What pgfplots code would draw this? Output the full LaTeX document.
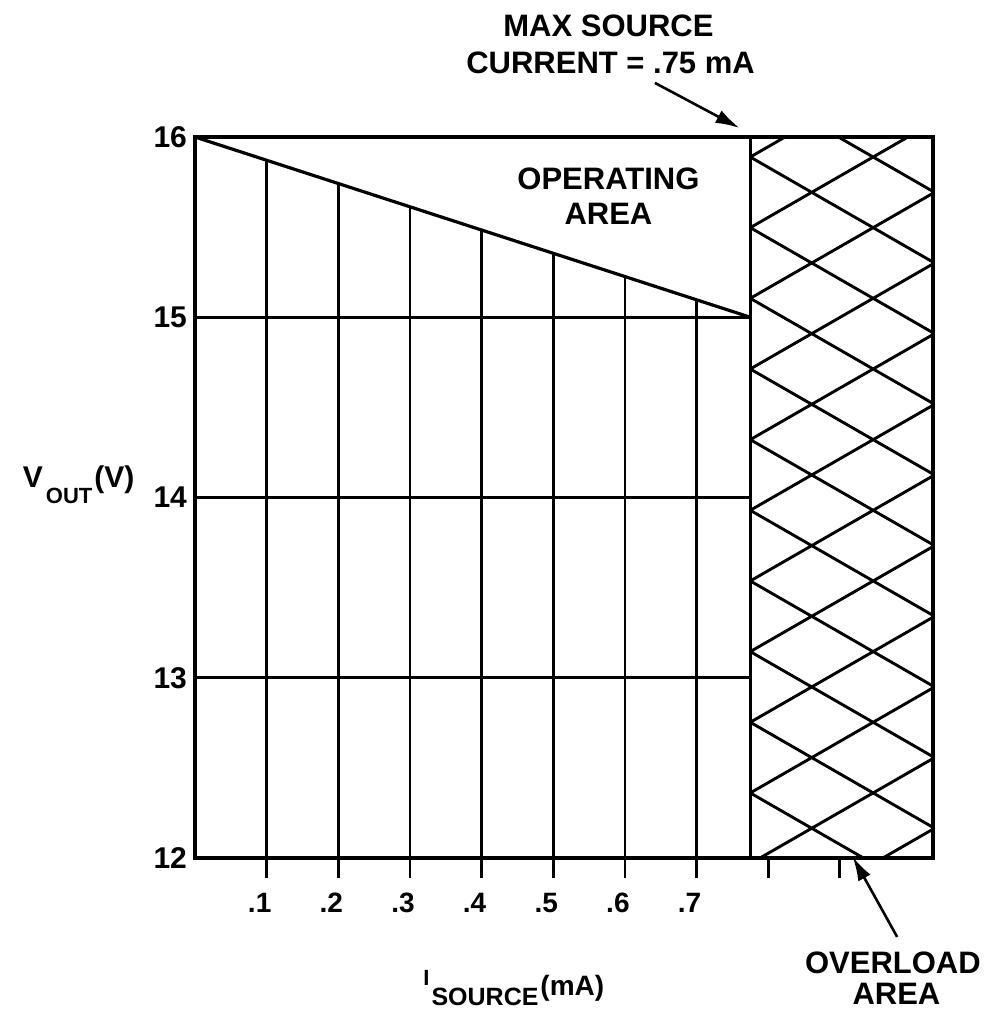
\documentclass[border=0pt]{standalone}
\usepackage{pgfplots}
\pgfplotsset{compat=1.18}
\usepackage{pgfplotstable}
\usepackage{fontspec}
\setmainfont{Liberation Sans}
\usetikzlibrary{arrows.meta}

% vertical grid lines, from 12 V up to the load line
\pgfplotstableread{
x y
0.1 12
0.1 15.871
nan nan
0.2 12
0.2 15.742
nan nan
0.3 12
0.3 15.613
nan nan
0.4 12
0.4 15.484
nan nan
0.5 12
0.5 15.355
nan nan
0.6 12
0.6 15.226
nan nan
0.7 12
0.7 15.097
}\vgrid

% horizontal grid lines in the operating area
\pgfplotstableread{
x y
0 13
0.775 13
nan nan
0 14
0.775 14
nan nan
0 15
0.775 15
}\hgrid

% load line
\pgfplotstableread{
x y
0 16
0.775 15
}\load

% boundary of the overload area
\pgfplotstableread{
x y
0.775 12
0.775 16
}\bound

% cross-hatching of the overload area
\pgfplotstableread{
x y
0.775 11.577
1.03 12.160
nan nan
0.775 11.969
1.03 12.552
nan nan
0.775 12.361
1.03 12.944
nan nan
0.775 12.753
1.03 13.336
nan nan
0.775 13.145
1.03 13.728
nan nan
0.775 13.537
1.03 14.120
nan nan
0.775 13.929
1.03 14.512
nan nan
0.775 14.321
1.03 14.904
nan nan
0.775 14.713
1.03 15.296
nan nan
0.775 15.105
1.03 15.688
nan nan
0.775 15.497
1.03 16.080
nan nan
0.775 15.889
1.03 16.472
nan nan
0.775 12.361
1.03 11.778
nan nan
0.775 12.753
1.03 12.170
nan nan
0.775 13.145
1.03 12.562
nan nan
0.775 13.537
1.03 12.954
nan nan
0.775 13.929
1.03 13.346
nan nan
0.775 14.321
1.03 13.738
nan nan
0.775 14.713
1.03 14.130
nan nan
0.775 15.105
1.03 14.522
nan nan
0.775 15.497
1.03 14.914
nan nan
0.775 15.889
1.03 15.306
nan nan
0.775 16.281
1.03 15.698
}\hatch

\begin{document}
\begin{tikzpicture}
\begin{axis}[
  name=ax,
  scale only axis, width=369pt, height=360.5pt,
  xmin=0, xmax=1.03, ymin=12, ymax=16,
  axis line style={line width=1.7pt, black},
  clip mode=individual,
  unbounded coords=jump,
  xtick={0.1,0.2,0.3,0.4,0.5,0.6,0.7,0.8,0.9},
  xticklabels={.1,.2,.3,.4,.5,.6,.7,{},{}},
  ytick={12,13,14,15,16},
  tick align=outside, xtick pos=bottom, ytick pos=left,
  major tick length=10pt,
  x tick style={line width=1.4pt, black},
  y tick style={draw=none},
  /pgf/number format/assume math mode=true,
  xticklabel style={font=\fontsize{14}{14}\selectfont\bfseries, xshift=-3.5pt, yshift=-4pt},
  yticklabel style={font=\fontsize{15}{15}\selectfont\bfseries, xshift=9.5pt},
]
\addplot[black, line width=1.4pt] table {\vgrid};
\addplot[black, line width=1.4pt] table {\hgrid};
\addplot[black, line width=1.6pt] table {\load};
\addplot[black, line width=1.6pt] table {\bound};
\addplot[black, line width=1.45pt] table {\hatch};

\node[anchor=base, font=\fontsize{15.5}{18}\selectfont\bfseries] at (axis cs:0.577,16.555) {MAX SOURCE};
\node[anchor=base, font=\fontsize{15.5}{18}\selectfont\bfseries] at (axis cs:0.580,16.355) {CURRENT = .75 mA};
\node[anchor=base, font=\fontsize{15.5}{18}\selectfont\bfseries] at (axis cs:0.577,15.706) {OPERATING};
\node[anchor=base, font=\fontsize{15.5}{18}\selectfont\bfseries] at (axis cs:0.577,15.512) {AREA};
\node[anchor=base, font=\fontsize{15.5}{18}\selectfont\bfseries] at (axis cs:0.974,11.357) {OVERLOAD};
\node[anchor=base, font=\fontsize{15.5}{18}\selectfont\bfseries] at (axis cs:0.979,11.190) {AREA};

\draw[line width=1.3pt, -{Latex[length=12pt,width=7pt]}] (axis cs:0.642,16.300) -- (axis cs:0.760,16.050);
\draw[line width=1.3pt, -{Latex[length=12pt,width=7pt]}] (axis cs:0.980,11.562) -- (axis cs:0.918,12.006);

\node[anchor=base east, inner sep=0pt] at (axis cs:-0.084,14.053)
  {\bfseries\fontsize{15}{15}\selectfont V\kern1.5pt\raisebox{-8pt}{\fontsize{11}{11}\selectfont OUT}\kern1pt{\fontsize{15}{15}\selectfont(V)}};
\node[anchor=base, inner sep=0pt] at (axis cs:0.445,11.184)
  {\bfseries\raisebox{10pt}{\fontsize{11}{11}\selectfont I}\kern1pt\fontsize{12.5}{12.5}\selectfont SOURCE\kern1pt\raisebox{5pt}{\fontsize{14}{14}\selectfont(mA)}};
\end{axis}
\pgfresetboundingbox
\path ([shift={(-97.5pt,-78pt)}]ax.south west) rectangle ([shift={(400.5pt,429pt)}]ax.south west);
\end{tikzpicture}
\end{document}
